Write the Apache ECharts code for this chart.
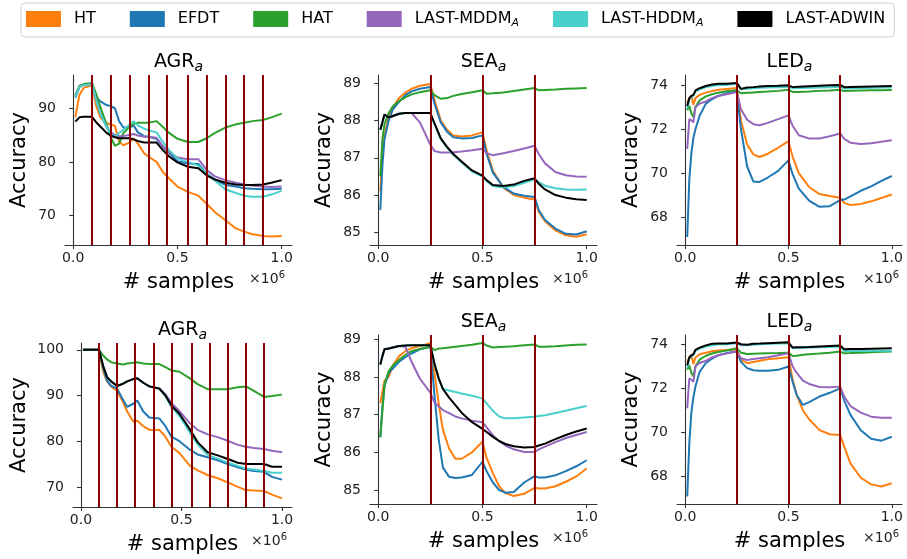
<!DOCTYPE html>
<html>
<head>
<meta charset="utf-8">
<script src="https://cdn.jsdelivr.net/npm/echarts@6/dist/echarts.min.js"></script>
<style>
  html, body { margin: 0; padding: 0; background: #fff; }
  #main { width: 907px; height: 559px; }
</style>
</head>
<body>
<div id="main"></div>
<script>
// method names (legend order = draw order)
const methodNames = ['HT', 'EFDT', 'HAT', 'LAST-MDDM_A', 'LAST-HDDM_A', 'LAST-ADWIN'];
const methodColors = ['#ff7f0e', '#1f77b4', '#2ca02c', '#9467bd', '#48d1cc', '#000000'];

// x in units of 1e6 samples
const xTicks = [0, 0.5, 1.0];
const agrTopTicks = [70, 80, 90];
const agrBotTicks = [70, 80, 90, 100];
const seaTicks = [85, 86, 87, 88, 89];
const ledTicks = [68, 70, 72, 74];

// drift points
const agrDrifts = [0.0909, 0.1818, 0.2727, 0.3636, 0.4545, 0.5455, 0.6364, 0.7273, 0.8182, 0.9091];
const seaDrifts = [0.25, 0.5, 0.75];
const ledDrifts = [0.25, 0.5, 0.75];

// ---- AGR (top) ----
const agrTopX     = [0.01, 0.03, 0.05, 0.09, 0.11, 0.13, 0.16, 0.18, 0.2, 0.22, 0.24, 0.27, 0.29, 0.31, 0.34, 0.36, 0.4, 0.43, 0.46, 0.5, 0.55, 0.6, 0.64, 0.68, 0.73, 0.78, 0.82, 0.86, 0.91, 0.95, 1.0];
const agrTopHT    = [88.3, 92.5, 93.8, 94.3, 90.5, 88.3, 87.2, 87.0, 86.7, 83.8, 83.1, 83.6, 84.4, 83.4, 81.6, 81.0, 80.0, 78.1, 76.9, 75.4, 74.4, 73.7, 72.2, 70.6, 69.1, 67.6, 67.0, 66.5, 66.2, 66.1, 66.2];
const agrTopEFDT  = [92.0, 94.0, 94.4, 94.6, 92.0, 91.3, 90.6, 90.4, 90.0, 87.6, 86.4, 86.4, 86.8, 85.5, 84.8, 84.7, 84.3, 82.8, 81.7, 80.1, 79.7, 79.6, 77.8, 76.7, 75.7, 75.4, 75.1, 75.0, 74.9, 74.9, 75.0];
const agrTopHAT   = [92.4, 94.2, 94.5, 94.7, 92.7, 90.2, 87.0, 84.6, 83.0, 83.4, 85.3, 86.6, 87.1, 87.3, 87.3, 87.3, 87.6, 86.5, 85.4, 84.3, 83.7, 83.7, 84.4, 85.4, 86.4, 87.0, 87.3, 87.6, 87.8, 88.3, 89.0];
const agrTopMDDM  = [92.2, 94.0, 94.3, 94.5, 91.5, 89.0, 86.5, 85.5, 85.0, 84.8, 84.8, 85.0, 85.2, 84.9, 84.7, 84.7, 84.5, 82.9, 81.8, 80.8, 80.5, 80.5, 78.5, 77.3, 76.6, 76.1, 75.8, 75.6, 75.4, 75.3, 75.4];
const agrTopHDDM  = [92.1, 94.0, 94.3, 94.5, 91.5, 89.0, 86.5, 85.2, 84.7, 85.4, 86.0, 86.9, 87.6, 86.8, 86.2, 85.9, 85.5, 83.7, 82.2, 80.6, 80.0, 79.3, 77.8, 76.5, 74.9, 74.2, 73.7, 73.5, 73.5, 73.9, 74.6];
const agrTopADWIN = [87.5, 88.3, 88.4, 88.4, 87.4, 86.6, 85.4, 84.9, 84.6, 84.4, 84.4, 84.4, 84.2, 83.9, 83.6, 83.6, 83.6, 82.2, 81.0, 79.9, 79.1, 78.8, 77.5, 76.7, 76.1, 75.8, 75.7, 75.7, 75.8, 76.1, 76.6];

// ---- SEA (top) ----
const seaTopX     = [0.01, 0.02, 0.03, 0.05, 0.07, 0.1, 0.13, 0.16, 0.2, 0.25, 0.27, 0.3, 0.33, 0.36, 0.4, 0.45, 0.5, 0.52, 0.55, 0.6, 0.65, 0.7, 0.75, 0.77, 0.8, 0.85, 0.9, 0.95, 1.0];
const seaTopHT    = [86.1, 87.0, 87.6, 88.1, 88.35, 88.6, 88.75, 88.85, 88.93, 88.98, 88.55, 88.0, 87.75, 87.6, 87.57, 87.6, 87.68, 87.2, 86.65, 86.2, 86.0, 85.93, 85.88, 85.55, 85.3, 85.05, 84.92, 84.88, 84.95];
const seaTopEFDT  = [85.6, 86.8, 87.5, 88.0, 88.3, 88.5, 88.68, 88.78, 88.85, 88.9, 88.45, 87.95, 87.7, 87.55, 87.52, 87.53, 87.6, 87.1, 86.6, 86.22, 86.04, 85.98, 85.95, 85.6, 85.33, 85.1, 84.96, 84.94, 85.03];
const seaTopHAT   = [86.5, 87.5, 87.9, 88.2, 88.38, 88.52, 88.62, 88.7, 88.76, 88.81, 88.68, 88.58, 88.6, 88.66, 88.71, 88.76, 88.81, 88.72, 88.73, 88.75, 88.79, 88.83, 88.87, 88.81, 88.82, 88.83, 88.85, 88.86, 88.87];
const seaTopMDDM  = [87.75, 87.95, 88.16, 88.08, 88.12, 88.18, 88.2, 88.2, 87.95, 87.35, 87.18, 87.14, 87.14, 87.15, 87.17, 87.2, 87.24, 87.12, 87.07, 87.12, 87.18, 87.25, 87.32, 87.1, 86.85, 86.62, 86.53, 86.5, 86.49];
const seaTopHDDM  = [87.75, 87.95, 88.16, 88.08, 88.12, 88.18, 88.2, 88.2, 88.2, 88.2, 87.9, 87.5, 87.27, 87.08, 86.87, 86.63, 86.5, 86.37, 86.24, 86.2, 86.24, 86.33, 86.42, 86.35, 86.25, 86.18, 86.15, 86.14, 86.15];
const seaTopADWIN = [87.75, 87.95, 88.16, 88.08, 88.12, 88.18, 88.2, 88.2, 88.2, 88.2, 87.92, 87.52, 87.29, 87.1, 86.9, 86.66, 86.52, 86.4, 86.27, 86.24, 86.28, 86.38, 86.45, 86.3, 86.15, 86.0, 85.93, 85.89, 85.87];

// ---- LED (top) ----
const ledTopX     = [0.01, 0.02, 0.03, 0.04, 0.05, 0.07, 0.1, 0.13, 0.16, 0.2, 0.25, 0.27, 0.3, 0.33, 0.36, 0.4, 0.45, 0.5, 0.52, 0.55, 0.6, 0.65, 0.7, 0.75, 0.77, 0.8, 0.85, 0.9, 0.95, 1.0];
const ledTopHT    = [73.2, 73.4, 73.5, 73.1, 73.4, 73.55, 73.65, 73.72, 73.78, 73.82, 73.86, 72.4, 71.3, 70.85, 70.73, 70.88, 71.15, 71.45, 70.75, 70.0, 69.37, 69.05, 68.96, 68.88, 68.65, 68.55, 68.6, 68.72, 68.87, 69.03];
const ledTopEFDT  = [67.1, 69.7, 70.9, 71.6, 72.0, 72.6, 73.15, 73.35, 73.5, 73.62, 73.7, 72.0, 70.3, 69.62, 69.6, 69.8, 70.1, 70.58, 69.95, 69.3, 68.75, 68.47, 68.5, 68.77, 68.8, 68.95, 69.2, 69.4, 69.65, 69.87];
const ledTopHAT   = [72.85, 73.05, 72.7, 72.55, 73.0, 73.3, 73.48, 73.58, 73.65, 73.71, 73.76, 73.62, 73.64, 73.66, 73.68, 73.7, 73.73, 73.78, 73.68, 73.68, 73.7, 73.73, 73.75, 73.78, 73.72, 73.74, 73.75, 73.76, 73.76, 73.77];
const ledTopMDDM  = [71.1, 72.45, 72.4, 72.3, 73.0, 73.15, 73.25, 73.4, 73.5, 73.58, 73.68, 72.9, 72.42, 72.22, 72.17, 72.28, 72.45, 72.62, 72.15, 71.72, 71.57, 71.57, 71.67, 71.8, 71.55, 71.38, 71.32, 71.35, 71.42, 71.49];
const ledTopHDDM  = [72.95, 73.35, 73.45, 73.5, 73.7, 73.8, 73.9, 73.95, 74.0, 74.0, 74.05, 73.8, 73.83, 73.85, 73.87, 73.88, 73.9, 73.92, 73.85, 73.86, 73.87, 73.88, 73.9, 73.92, 73.84, 73.85, 73.86, 73.87, 73.88, 73.88];
const ledTopADWIN = [73.05, 73.4, 73.5, 73.55, 73.75, 73.85, 73.95, 74.02, 74.05, 74.05, 74.09, 73.82, 73.88, 73.9, 73.93, 73.95, 73.96, 73.98, 73.9, 73.92, 73.94, 73.96, 73.98, 74.0, 73.9, 73.91, 73.92, 73.93, 73.94, 73.95];

// ---- AGR (bottom) ----
const agrBotX     = [0.01, 0.05, 0.09, 0.11, 0.13, 0.15, 0.18, 0.21, 0.23, 0.26, 0.28, 0.31, 0.34, 0.36, 0.39, 0.42, 0.45, 0.49, 0.54, 0.58, 0.63, 0.68, 0.73, 0.78, 0.82, 0.86, 0.91, 0.95, 1.0];
const agrBotHT    = [100, 100, 100, 95.3, 93.1, 92.0, 91.0, 88.5, 86.5, 84.3, 84.5, 83.3, 82.5, 82.4, 82.5, 81.0, 78.8, 77.4, 74.7, 73.6, 72.6, 71.9, 71.0, 70.0, 69.3, 69.2, 69.1, 68.3, 67.5];
const agrBotEFDT  = [100, 100, 100, 96.0, 93.2, 92.1, 91.5, 89.0, 87.5, 88.2, 88.9, 86.5, 85.2, 85.1, 85.0, 83.3, 81.0, 80.0, 78.2, 77.1, 76.5, 75.8, 75.0, 74.3, 73.8, 73.5, 73.3, 72.2, 71.6];
const agrBotHAT   = [100, 100, 100, 98.8, 97.9, 97.3, 97.0, 96.8, 97.0, 97.2, 97.3, 97.0, 96.9, 96.9, 96.9, 96.2, 95.5, 95.2, 93.8, 92.5, 91.4, 91.4, 91.4, 91.8, 92.0, 91.0, 89.7, 89.9, 90.2];
const agrBotMDDM  = [100, 100, 100, 96.5, 94.0, 93.1, 92.1, 92.6, 93.1, 93.6, 93.8, 92.8, 92.0, 91.8, 91.6, 90.3, 88.3, 86.6, 84.0, 82.5, 81.5, 80.9, 80.1, 79.2, 78.8, 78.5, 78.3, 77.9, 77.6];
const agrBotHDDM  = [100, 100, 100, 96.5, 94.0, 93.1, 92.1, 92.6, 93.1, 93.6, 93.8, 92.8, 92.0, 91.8, 91.5, 89.9, 87.5, 85.5, 82.0, 79.3, 77.0, 76.2, 75.3, 74.6, 74.0, 73.8, 73.5, 73.1, 73.1];
const agrBotADWIN = [100, 100, 100, 96.5, 94.0, 93.1, 92.1, 92.6, 93.1, 93.6, 93.8, 92.8, 92.0, 91.8, 91.5, 90.0, 87.8, 86.0, 82.7, 79.8, 77.6, 76.9, 76.1, 75.3, 75.0, 75.0, 75.0, 74.4, 74.4];

// ---- SEA (bottom) ----
const seaBotX     = [0.01, 0.02, 0.03, 0.05, 0.07, 0.1, 0.13, 0.16, 0.2, 0.25, 0.27, 0.29, 0.31, 0.34, 0.37, 0.4, 0.45, 0.5, 0.52, 0.55, 0.58, 0.61, 0.65, 0.7, 0.75, 0.77, 0.8, 0.85, 0.9, 0.95, 1.0];
const seaBotHT    = [87.3, 87.6, 87.9, 88.0, 88.3, 88.55, 88.68, 88.76, 88.82, 88.89, 88.1, 87.3, 86.6, 86.1, 85.83, 85.83, 86.0, 86.28, 85.85, 85.45, 85.1, 84.92, 84.84, 84.9, 85.06, 85.04, 85.04, 85.1, 85.22, 85.36, 85.57];
const seaBotEFDT  = [86.4, 87.2, 87.75, 88.1, 88.22, 88.4, 88.52, 88.62, 88.73, 88.8, 87.5, 86.35, 85.6, 85.35, 85.32, 85.33, 85.4, 85.75, 85.5, 85.2, 85.0, 84.93, 84.95, 85.2, 85.37, 85.33, 85.33, 85.39, 85.5, 85.63, 85.79];
const seaBotHAT   = [86.4, 87.1, 87.8, 88.15, 88.3, 88.45, 88.58, 88.68, 88.74, 88.8, 88.71, 88.75, 88.76, 88.78, 88.8, 88.82, 88.85, 88.9, 88.83, 88.78, 88.79, 88.8, 88.81, 88.84, 88.86, 88.8, 88.8, 88.81, 88.83, 88.85, 88.86];
const seaBotMDDM  = [88.33, 88.55, 88.73, 88.75, 88.78, 88.82, 88.8, 88.4, 87.95, 87.58, 87.32, 87.22, 87.12, 87.04, 86.95, 86.9, 86.84, 86.8, 86.66, 86.45, 86.3, 86.18, 86.08, 86.01, 86.01, 86.08, 86.15, 86.27, 86.38, 86.46, 86.54];
const seaBotHDDM  = [88.33, 88.55, 88.73, 88.75, 88.78, 88.82, 88.83, 88.84, 88.84, 88.84, 88.35, 87.96, 87.68, 87.64, 87.6, 87.56, 87.5, 87.43, 87.3, 87.1, 86.95, 86.9, 86.9, 86.92, 86.94, 86.96, 86.98, 87.04, 87.1, 87.17, 87.23];
const seaBotADWIN = [88.33, 88.55, 88.73, 88.75, 88.78, 88.82, 88.83, 88.84, 88.84, 88.84, 88.35, 87.96, 87.68, 87.45, 87.25, 87.05, 86.8, 86.62, 86.54, 86.41, 86.3, 86.22, 86.16, 86.13, 86.14, 86.18, 86.23, 86.35, 86.46, 86.55, 86.63];

// ---- LED (bottom) ----
const ledBotX     = [0.01, 0.02, 0.03, 0.04, 0.05, 0.07, 0.1, 0.13, 0.16, 0.2, 0.25, 0.27, 0.3, 0.33, 0.36, 0.4, 0.45, 0.5, 0.52, 0.54, 0.57, 0.6, 0.65, 0.7, 0.75, 0.77, 0.8, 0.85, 0.9, 0.95, 1.0];
const ledBotHT    = [73.2, 73.4, 73.5, 73.1, 73.4, 73.55, 73.62, 73.68, 73.72, 73.74, 73.76, 73.3, 73.14, 73.2, 73.25, 73.32, 73.37, 73.41, 72.4, 71.7, 71.0, 70.6, 70.11, 69.92, 69.89, 69.36, 68.6, 67.95, 67.65, 67.55, 67.7];
const ledBotEFDT  = [67.1, 69.5, 70.9, 71.6, 72.1, 72.75, 73.15, 73.35, 73.5, 73.6, 73.67, 73.2, 72.92, 72.82, 72.8, 72.8, 72.84, 72.99, 72.3, 71.7, 71.25, 71.38, 71.63, 71.8, 72.0, 71.45, 70.8, 70.1, 69.72, 69.63, 69.81];
const ledBotHAT   = [72.85, 73.05, 72.7, 72.55, 73.0, 73.3, 73.48, 73.58, 73.65, 73.72, 73.82, 73.62, 73.56, 73.57, 73.58, 73.59, 73.6, 73.62, 73.47, 73.48, 73.52, 73.55, 73.58, 73.62, 73.67, 73.59, 73.6, 73.62, 73.64, 73.66, 73.67];
const ledBotMDDM  = [71.1, 72.45, 72.4, 72.3, 73.0, 73.15, 73.25, 73.4, 73.5, 73.58, 73.67, 73.37, 73.29, 73.33, 73.37, 73.41, 73.5, 73.59, 73.0, 72.7, 72.35, 72.2, 72.06, 72.05, 72.08, 71.63, 71.2, 70.9, 70.72, 70.67, 70.67];
const ledBotHDDM  = [72.95, 73.35, 73.45, 73.5, 73.7, 73.8, 73.9, 73.95, 74.0, 74.0, 74.05, 73.95, 73.95, 73.98, 74.0, 74.02, 74.03, 74.05, 73.82, 73.83, 73.84, 73.85, 73.86, 73.88, 73.9, 73.7, 73.7, 73.7, 73.71, 73.71, 73.71];
const ledBotADWIN = [73.05, 73.4, 73.5, 73.55, 73.75, 73.85, 73.95, 74.02, 74.03, 74.04, 74.08, 74.0, 73.98, 74.02, 74.03, 74.05, 74.07, 74.09, 73.85, 73.86, 73.87, 73.88, 73.9, 73.92, 73.94, 73.77, 73.78, 73.79, 73.8, 73.81, 73.82];

const FONT = 'DejaVu Sans';
const xMin = -0.0395, xMax = 1.0495;

// panel layout (px) + axis ranges
const panels = [
  { title: 'AGR', xs: agrTopX, ys: [agrTopHT, agrTopEFDT, agrTopHAT, agrTopMDDM, agrTopHDDM, agrTopADWIN],
    drifts: agrDrifts, yMin: 64.5, yMax: 96.2, yTicks: agrTopTicks,
    left: 65, top: 75, width: 227, height: 170, nameGap: 35, offRight: 285 },
  { title: 'SEA', xs: seaTopX, ys: [seaTopHT, seaTopEFDT, seaTopHAT, seaTopMDDM, seaTopHDDM, seaTopADWIN],
    drifts: seaDrifts, yMin: 84.66, yMax: 89.22, yTicks: seaTicks,
    left: 370, top: 75, width: 227, height: 170, nameGap: 35, offRight: 588 },
  { title: 'LED', xs: ledTopX, ys: [ledTopHT, ledTopEFDT, ledTopHAT, ledTopMDDM, ledTopHDDM, ledTopADWIN],
    drifts: ledDrifts, yMin: 66.74, yMax: 74.45, yTicks: ledTicks,
    left: 677, top: 75, width: 225, height: 170, nameGap: 35, offRight: 899 },
  { title: 'AGR', xs: agrBotX, ys: [agrBotHT, agrBotEFDT, agrBotHAT, agrBotMDDM, agrBotHDDM, agrBotADWIN],
    drifts: agrDrifts, yMin: 65.6, yMax: 101.5, yTicks: agrBotTicks,
    left: 73, top: 343, width: 219, height: 164, nameGap: 43, offRight: 287 },
  { title: 'SEA', xs: seaBotX, ys: [seaBotHT, seaBotEFDT, seaBotHAT, seaBotMDDM, seaBotHDDM, seaBotADWIN],
    drifts: seaDrifts, yMin: 84.63, yMax: 89.11, yTicks: seaTicks,
    left: 370, top: 335, width: 227, height: 169, nameGap: 35, offRight: 588 },
  { title: 'LED', xs: ledBotX, ys: [ledBotHT, ledBotEFDT, ledBotHAT, ledBotMDDM, ledBotHDDM, ledBotADWIN],
    drifts: ledDrifts, yMin: 66.76, yMax: 74.42, yTicks: ledTicks,
    left: 677, top: 335, width: 225, height: 169, nameGap: 35, offRight: 899 }
];

const axisLineStyle = { color: '#333', width: 1.1 };
const grids = [], xAxes = [], yAxes = [], series = [], graphics = [];

panels.forEach((p, i) => {
  grids.push({ left: p.left, top: p.top, width: p.width, height: p.height, containLabel: false });
  xAxes.push({
    type: 'value', gridIndex: i, min: xMin, max: xMax,
    name: '# samples', nameLocation: 'middle', nameGap: 27,
    nameTextStyle: { fontSize: 21, color: '#000', fontFamily: FONT },
    axisLine: { show: true, onZero: false, lineStyle: axisLineStyle },
    axisTick: { show: true, length: 4, customValues: xTicks, lineStyle: axisLineStyle },
    axisLabel: { customValues: xTicks, margin: 6, fontSize: 14, color: '#222', fontFamily: FONT,
      formatter: v => v.toFixed(1) },
    splitLine: { show: false }
  });
  yAxes.push({
    type: 'value', gridIndex: i, min: p.yMin, max: p.yMax,
    name: 'Accuracy', nameLocation: 'middle', nameGap: p.nameGap, nameRotate: 90,
    nameTextStyle: { fontSize: 21, color: '#000', fontFamily: FONT },
    axisLine: { show: true, lineStyle: axisLineStyle },
    axisTick: { show: true, length: 4, customValues: p.yTicks, lineStyle: axisLineStyle },
    axisLabel: { customValues: p.yTicks, margin: 9, fontSize: 14, color: '#222', fontFamily: FONT },
    splitLine: { show: false }
  });
  p.ys.forEach((vals, k) => {
    series.push({
      name: methodNames[k], type: 'line', xAxisIndex: i, yAxisIndex: i,
      data: p.xs.map((x, j) => [x, vals[j]]),
      showSymbol: false, symbol: 'none', smooth: false,
      lineStyle: { color: methodColors[k], width: 2 },
      itemStyle: { color: methodColors[k] },
      z: 2
    });
  });
  // concept drift markers
  series.push({
    type: 'line', xAxisIndex: i, yAxisIndex: i, data: [], z: 5,
    markLine: {
      silent: true, symbol: 'none', animation: false,
      label: { show: false },
      lineStyle: { color: '#8b0000', width: 2, type: 'solid', opacity: 1 },
      data: p.drifts.map(d => ({ xAxis: d }))
    }
  });
  // subplot title
  graphics.push({
    type: 'text', x: p.left + p.width / 2, y: p.top - 13,
    style: {
      text: '{m|' + p.title + '}{s|a}', align: 'center', verticalAlign: 'middle',
      rich: {
        m: { fontSize: 19, fontFamily: FONT, fill: '#000', lineHeight: 24, verticalAlign: 'middle' },
        s: { fontSize: 14, fontFamily: FONT, fontStyle: 'italic', fill: '#000', lineHeight: 13, verticalAlign: 'bottom' }
      }
    }
  });
  // x offset text
  graphics.push({
    type: 'text', x: p.offRight, y: p.top + p.height + 34,
    style: {
      text: '{m|×10}{p|6}', align: 'right', verticalAlign: 'middle',
      rich: {
        m: { fontSize: 14, fontFamily: FONT, fill: '#222', lineHeight: 18, verticalAlign: 'middle' },
        p: { fontSize: 10, fontFamily: FONT, fill: '#222', lineHeight: 9, verticalAlign: 'top' }
      }
    }
  });
});

const chart = echarts.init(document.getElementById('main'), null, { renderer: 'canvas' });
chart.setOption({
  animation: false,
  backgroundColor: '#fff',
  textStyle: { fontFamily: FONT },
  legend: {
    data: methodNames, left: 21, top: 3,
    icon: 'rect', itemWidth: 35, itemHeight: 16, itemGap: 34,
    padding: [8, 9, 8, 5],
    borderColor: '#d0d0d0', borderWidth: 1, borderRadius: 4, backgroundColor: '#fff',
    selectedMode: false,
    formatter: name => {
      const m = name.match(/^(.*)_(\w)$/);
      return m ? '{n|' + m[1] + '}{s|' + m[2] + '}' : '{n|' + name + '}';
    },
    textStyle: {
      fontSize: 16, color: '#000', fontFamily: FONT, padding: [0, 0, 0, 8],
      rich: {
        n: { fontSize: 16, color: '#000', fontFamily: FONT, lineHeight: 20 },
        s: { fontSize: 11, color: '#000', fontFamily: FONT, fontStyle: 'italic', lineHeight: 9, verticalAlign: 'bottom' }
      }
    }
  },
  grid: grids,
  xAxis: xAxes,
  yAxis: yAxes,
  series: series,
  graphic: graphics
});
</script>
</body>
</html>
